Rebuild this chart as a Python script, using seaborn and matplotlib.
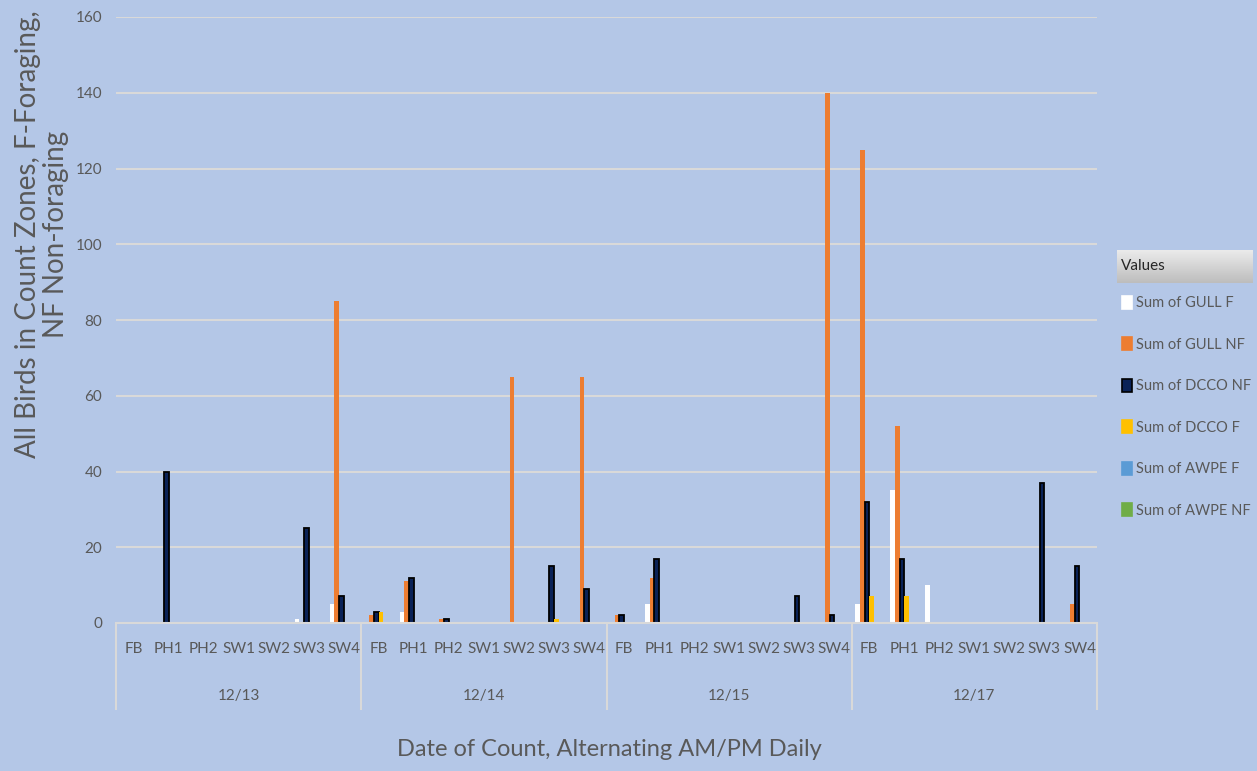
import numpy as np
import pandas as pd
import matplotlib
matplotlib.use("Agg")
import matplotlib.pyplot as plt
import matplotlib.patches as mpatches
import seaborn as sns

dates = ["12/13", "12/14", "12/15", "12/17"]
zones = ["FB", "PH1", "PH2", "SW1", "SW2", "SW3", "SW4"]

#            FB PH1 PH2 SW1 SW2 SW3 SW4
gull_f   = [0, 0, 0, 0, 0, 1, 5,
            0, 3, 0, 0, 0, 0, 0,
            0, 5, 0, 0, 0, 0, 0,
            5, 35, 10, 0, 0, 0, 0]
gull_nf  = [0, 0, 0, 0, 0, 0, 85,
            2, 11, 1, 0, 65, 0, 65,
            2, 12, 0, 0, 0, 0, 140,
            125, 52, 0, 0, 0, 0, 5]
dcco_nf  = [0, 40, 0, 0, 0, 25, 7,
            3, 12, 1, 0, 0, 15, 9,
            2, 17, 0, 0, 0, 7, 2,
            32, 17, 0, 0, 0, 37, 15]
dcco_f   = [0, 0, 0, 0, 0, 0, 0,
            3, 0, 0, 0, 0, 1, 0,
            0, 0, 0, 0, 0, 0, 0,
            7, 7, 0, 0, 0, 0, 0]
awpe_f   = [0, 0, 0, 0, 0, 0, 0,
            0, 0, 0, 0, 0, 0, 0,
            0, 0, 0, 0, 0, 0, 0,
            0, 0, 0, 0, 0, 0, 0]
awpe_nf  = [0, 0, 0, 0, 0, 0, 0,
            0, 0, 0, 0, 0, 0, 0,
            0, 0, 0, 0, 0, 0, 0,
            0, 0, 0, 0, 0, 0, 0]

series = ["Sum of GULL F", "Sum of GULL NF", "Sum of DCCO NF",
          "Sum of DCCO F", "Sum of AWPE F", "Sum of AWPE NF"]
colors = {"Sum of GULL F": "#FFFFFF", "Sum of GULL NF": "#ED7D31",
          "Sum of DCCO NF": "#0A2257", "Sum of DCCO F": "#FFC000",
          "Sum of AWPE F": "#5B9BD5", "Sum of AWPE NF": "#70AD47"}

cats = [d + " " + z for d in dates for z in zones]
df = pd.DataFrame({"cat": cats, "Sum of GULL F": gull_f, "Sum of GULL NF": gull_nf,
                   "Sum of DCCO NF": dcco_nf, "Sum of DCCO F": dcco_f,
                   "Sum of AWPE F": awpe_f, "Sum of AWPE NF": awpe_nf})
long = df.melt(id_vars="cat", var_name="series", value_name="count")

bg = "#B4C7E7"
txt = "#595959"
grid = "#D9D9D9"
plt.rcParams["font.family"] = ["Lato", "DejaVu Sans"]

fig = plt.figure(figsize=(12.57, 7.71), dpi=100, facecolor=bg)
ax = fig.add_axes([116/1257, 1-623/771, (1097-116)/1257, 606/771])
ax.set_facecolor(bg)

sns.barplot(data=long, x="cat", y="count", hue="series", order=cats,
            hue_order=series, palette=colors, width=0.8, ax=ax,
            legend=False, saturation=1)

for cont, s in zip(ax.containers, series):
    for p in cont:
        p.set_linewidth(0)
        if s == "Sum of DCCO NF" and p.get_height() > 0:
            p.set_edgecolor("black")
            p.set_linewidth(1.3)

ax.set_ylim(0, 160)
ax.set_xlim(-0.5, len(cats) - 0.5)
ax.set_yticks(np.arange(0, 161, 20))
ax.yaxis.grid(True, color=grid, lw=1.5)
ax.set_axisbelow(True)
for sp in ["top", "right", "left"]:
    ax.spines[sp].set_visible(False)
ax.spines["bottom"].set_color(grid)
ax.spines["bottom"].set_linewidth(1.5)
ax.set_xticks(range(len(cats)))
ax.set_xticklabels(zones * len(dates))
ax.tick_params(axis="x", length=0, pad=14, labelsize=11, labelcolor=txt)
ax.tick_params(axis="y", length=0, pad=10, labelsize=11, labelcolor=txt)
ax.set_xlabel("")
ax.set_ylabel("")

# date groups and separators
for i, d in enumerate(dates):
    ax.text(i * 7 + 3, -73/606, d, transform=ax.get_xaxis_transform(),
            ha="center", va="center", fontsize=11, color=txt)
for i in range(len(dates) + 1):
    ax.plot([i * 7 - 0.5] * 2, [0, -87/606], transform=ax.get_xaxis_transform(),
            color=grid, lw=1.5, clip_on=False, solid_capstyle="butt")

fig.text(609/1257, 1-750/771, "Date of Count, Alternating AM/PM Daily",
         ha="center", va="center", fontsize=17, color=txt)
fig.text(42/1257, 1-234/771, "All Birds in Count Zones, F-Foraging,\nNF Non-foraging",
         ha="center", va="center", rotation=90, fontsize=20, color=txt,
         linespacing=1.1)

# legend header with gradient
hax = fig.add_axes([1117/1257, 1-283/771, 136/1257, 33/771])
grad = np.linspace(0.92, 0.74, 50).reshape(-1, 1)
hax.imshow(grad, cmap="gray", vmin=0, vmax=1, aspect="auto", extent=[0, 1, 0, 1])
hax.set_axis_off()
hax.text(0.03, 0.5, "Values", ha="left", va="center", fontsize=11, color="#262626")

handles = []
for s in series:
    ec = "black" if s == "Sum of DCCO NF" else colors[s]
    handles.append(mpatches.Patch(facecolor=colors[s], edgecolor=ec, lw=1.2, label=s))
fig.legend(handles=handles, loc="upper left", bbox_to_anchor=(1116/1257, 1-290/771),
           frameon=False, fontsize=10.5, labelcolor=txt, handlelength=0.7,
           handleheight=1.0, handletextpad=0.25, labelspacing=1.85, borderaxespad=0)

fig.savefig("out.png", dpi=100, facecolor=bg)
